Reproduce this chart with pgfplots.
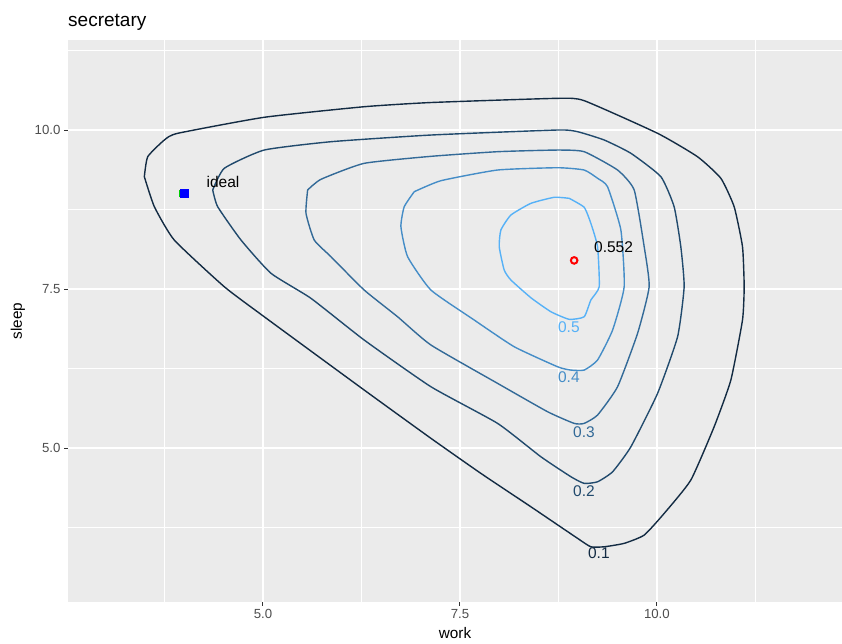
\documentclass[border=0pt]{standalone}
\usepackage{fontspec}
\setmainfont{Liberation Sans}
\usepackage{pgfplots}
\pgfplotsset{compat=1.18}
\definecolor{panel}{HTML}{EBEBEB}
\definecolor{cA}{HTML}{132B43}
\definecolor{cB}{HTML}{214A6D}
\definecolor{cC}{HTML}{336A98}
\definecolor{cD}{HTML}{458DC7}
\definecolor{cE}{HTML}{56B1F7}
\definecolor{tickgrey}{HTML}{4D4D4D}
\begin{document}
\begin{tikzpicture}
\useasboundingbox (-68pt,-41pt) rectangle (774pt,602pt);
\begin{axis}[
  at={(0,0)}, anchor=south west,
  scale only axis, width=774pt, height=562pt,
  xmin=2.525, xmax=12.35, ymin=2.58, ymax=11.415,
  axis background/.style={fill=panel},
  axis line style={draw=none},
  xtick={5,7.5,10}, ytick={5,7.5,10},
  xticklabels={5.0,7.5,10.0}, yticklabels={5.0,7.5,10.0},
  minor xtick={3.75,6.25,8.75,11.25}, minor ytick={3.75,6.25,8.75,11.25},
  xtick pos=bottom, ytick pos=left,
  grid=both,
  major grid style={white, line width=1.4pt},
  minor grid style={white, line width=0.7pt},
  tick align=outside, major tick length=3.6pt, minor tick length=0pt,
  tick style={color=black!80, line width=1pt},
  ticklabel style={font=\fontsize{13.2}{15}\selectfont, text=tickgrey},
  xticklabel style={yshift=-0.5pt},
  yticklabel style={xshift=-0.5pt},
  /pgf/number format/assume math mode=true,
  xlabel={work}, ylabel={sleep},
  xlabel style={at={(axis description cs:0.5,-0.0552)}, anchor=center, font=\fontsize{15.3}{17}\selectfont},
  ylabel style={at={(axis description cs:-0.0646,0.5)}, anchor=center, rotate=0, font=\fontsize{15.3}{17}\selectfont},
  title={secretary},
  title style={at={(axis description cs:0,1.0214)}, anchor=west, inner sep=0pt, font=\fontsize{19}{22}\selectfont},
  clip=false,
  every axis plot/.append style={smooth, tension=0.3},
]
% contour 0.1
\addplot[cA, line width=1.4pt] coordinates {
(3.494,9.266) (3.537,9.580) (3.748,9.843) (3.918,9.948) (5.016,10.200) (6.285,10.366)
(7.132,10.432) (8.740,10.498) (9.077,10.461) (10.009,9.948) (10.516,9.580) (10.812,9.241)
(10.981,8.794) (11.087,8.165) (11.108,7.536) (11.087,7.013) (10.939,6.069) (10.727,5.335)
(10.431,4.497) (10.093,3.973) (9.839,3.632) (9.585,3.502) (9.331,3.448) (9.162,3.448)
(8.994,3.580) (8.401,4.077) (7.766,4.602) (7.132,5.153) (6.285,5.912) (5.016,7.064)
(4.509,7.536) (3.874,8.270) (3.621,8.794) (3.494,9.266)};
% contour 0.2
\addplot[cB, line width=1.4pt] coordinates {
(4.362,9.057) (4.509,9.398) (5.016,9.685) (5.863,9.816) (7.132,9.921) (8.740,10.000)
(8.994,9.973) (9.331,9.843) (9.670,9.634) (10.051,9.266) (10.219,8.794) (10.304,8.165)
(10.346,7.536) (10.263,6.750) (10.009,5.860) (9.670,5.020) (9.438,4.627) (9.247,4.470)
(9.077,4.445) (8.909,4.549) (8.528,4.863) (7.978,5.388) (7.132,5.964) (6.285,6.698)
(5.609,7.354) (5.102,7.747) (4.721,8.270) (4.425,8.794) (4.362,9.057)};
% contour 0.3
\addplot[cC, line width=1.4pt] coordinates {
(5.567,9.057) (5.736,9.225) (6.285,9.476) (7.132,9.586) (7.978,9.659) (8.740,9.685)
(9.077,9.659) (9.501,9.371) (9.712,9.057) (9.839,8.165) (9.902,7.536) (9.755,6.803)
(9.501,5.964) (9.247,5.519) (9.077,5.388) (8.950,5.388) (8.613,5.571) (7.978,6.017)
(7.132,6.620) (6.709,7.064) (6.285,7.484) (5.863,8.008) (5.651,8.270) (5.546,8.690)
(5.567,9.057)};
% contour 0.4
\addplot[cD, line width=1.4pt] coordinates {
(6.920,9.030) (7.259,9.203) (7.978,9.371) (8.740,9.407) (9.077,9.371) (9.247,9.241)
(9.374,9.108) (9.543,8.428) (9.585,7.536) (9.438,6.855) (9.247,6.384) (9.077,6.226)
(8.909,6.226) (8.740,6.278) (8.189,6.593) (7.681,7.013) (7.132,7.484) (6.836,8.008)
(6.751,8.480) (6.793,8.794) (6.920,9.030)};
% contour 0.5
\addplot[cE, line width=1.4pt] coordinates {
(8.887,8.926) (9.077,8.785) (9.162,8.533) (9.247,8.165) (9.268,7.536) (9.162,7.327)
(9.077,7.064) (8.887,7.024) (8.655,7.143) (8.401,7.363) (8.147,7.642) (8.062,7.799)
(7.999,8.165) (8.020,8.428) (8.147,8.663) (8.401,8.847) (8.697,8.942) (8.887,8.926)};
% points
\addplot[only marks, mark=o, mark size=3.3pt, red, mark options={line width=2pt}] coordinates {(8.95,7.95)};
\addplot[only marks, mark=square*, mark size=3pt, green!80!black] coordinates {(3.972,9.0)};
\addplot[only marks, mark=square*, mark size=4pt, blue] coordinates {(4.0,9.0)};
% labels
\node[font=\fontsize{15.5}{17}\selectfont, text=cE] at (axis cs:8.883,6.902) {0.5};
\node[font=\fontsize{15.5}{17}\selectfont, text=cD] at (axis cs:8.883,6.116) {0.4};
\node[font=\fontsize{15.5}{17}\selectfont, text=cC] at (axis cs:9.074,5.252) {0.3};
\node[font=\fontsize{15.5}{17}\selectfont, text=cB] at (axis cs:9.074,4.324) {0.2};
\node[font=\fontsize{15.5}{17}\selectfont, text=cA] at (axis cs:9.264,3.349) {0.1};
\node[font=\fontsize{15.5}{17}\selectfont] at (axis cs:9.45,8.16) {0.552};
\node[font=\fontsize{15.5}{17}\selectfont] at (axis cs:4.492,9.182) {ideal};
\end{axis}
\end{tikzpicture}
\end{document}
